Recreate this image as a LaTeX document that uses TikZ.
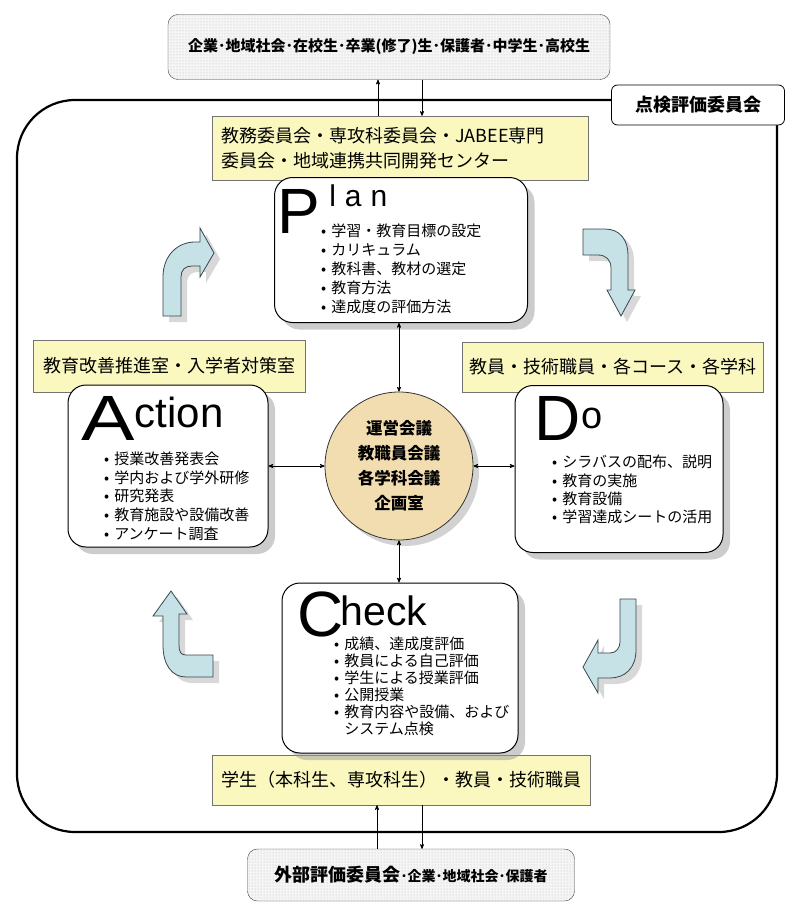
\documentclass[tikz,border=0pt]{standalone}
\usepackage{fontspec}
\setmainfont{Noto Sans CJK JP}
\newfontfamily\latin{Liberation Sans}
\usepackage{tikz}
\usetikzlibrary{arrows, positioning, shadows, patterns}
\definecolor{memo}{HTML}{FAF8BE}
\definecolor{council}{HTML}{F2DDB0}
\definecolor{turnfill}{HTML}{C6E2E6}
\definecolor{turnline}{HTML}{37474D}
\newcommand{\dotitem}{\textbullet\hspace{5pt}}
\tikzset{
  outside/.style = {draw=black!75, rounded corners=10pt, inner sep=0pt,
    preaction={fill=gray!8}, pattern=dots, pattern color=gray!55},
  office/.style = {draw=black!55, fill=memo, inner sep=0pt,
    font=\fontsize{18}{25}\selectfont},
  phase/.style = {draw=black, fill=white, line width=1pt, rounded corners=18pt,
    drop shadow={shadow xshift=7pt, shadow yshift=-7pt, fill=black!40}},
  initial/.style = {inner sep=0pt, anchor=base west,
    font=\latin\fontsize{64}{64}\selectfont},
  tail/.style = {inner sep=0pt, anchor=base west},
  items/.style = {inner sep=0pt, anchor=north west, align=left,
    font=\fontsize{15}{19}\selectfont},
  turn/.style = {fill=turnfill, draw=turnline, line width=.8pt,
    drop shadow={shadow xshift=6pt, shadow yshift=-6pt, fill=black!30}},
  link/.style = {line width=.7pt}
}
\begin{document}
\begin{tikzpicture}[x=1pt, y=-1pt, >=stealth']
\useasboundingbox (0,0) rectangle (788,907);
\draw[line width=2.2pt, rounded corners=58pt] (640,100) -- (17,100) -- (17,832) -- (777,832) -- (777,112);

\node[outside, minimum width=442pt, minimum height=65pt, font=\bfseries] (public) at (389,47)
  {\fontsize{15}{15}\selectfont 企業･地域社会･在校生･卒業(修了)生･保護者･中学生･高校生};
\node[outside, minimum width=327pt, minimum height=52pt, font=\bfseries] (external) at (411,875)
  {{\fontsize{18}{18}\selectfont 外部評価委員会}\fontsize{14}{14}\selectfont ･企業･地域社会･保護者};
\node[draw, fill=white, rounded corners=6pt, line width=.8pt, minimum width=173pt,
  minimum height=40pt, font=\fontsize{18}{18}\selectfont\bfseries] (review) at (698,105) {点検評価委員会};

\node[office, minimum width=376pt, minimum height=64pt, align=left, text width=358pt] (planoffice) at (400,148)
  {教務委員会・専攻科委員会・JABEE専門\\委員会・地域連携共同開発センター};
\node[office, minimum width=272pt, minimum height=52pt] (actoffice) at (169,366) {教育改善推進室・入学者対策室};
\node[office, minimum width=301pt, minimum height=50pt] (dooffice) at (613,367) {教員・技術職員・各コース・各学科};
\node[office, minimum width=378pt, minimum height=50pt] (checkoffice) at (401,780) {学生（本科生、専攻科生）・教員・技術職員};

\node[phase, minimum width=253pt, minimum height=145pt] (plan) at (401,250) {};
\node[phase, minimum width=200pt, minimum height=162pt] (action) at (168,466) {};
\node[phase, minimum width=208pt, minimum height=167pt] (do) at (619,469) {};
\node[phase, minimum width=236pt, minimum height=170pt] (check) at (400,668) {};

\node[initial] (plantitle) at (277,233) {P};
\node[tail, font=\latin\fontsize{30}{30}\selectfont] (plantail) at ([xshift=9pt, yshift=27pt]plantitle.base east)
  {l\hspace{9pt}a\hspace{9pt}n};
\node[initial] (actiontitle) at (81,440) {\scalebox{1.25}[1]{A}};
\node[tail, font=\latin\fontsize{42}{42}\selectfont] (actiontail) at ([yshift=13pt]actiontitle.base east) {ction};
\node[initial] (dotitle) at (534,440) {D};
\node[tail, font=\latin\fontsize{38}{38}\selectfont] (dotail) at ([xshift=1pt, yshift=12pt]dotitle.base east) {o};
\node[initial] (checktitle) at (297,636) {C};
\node[tail, font=\latin\fontsize{41}{41}\selectfont] (checktail) at ([xshift=-3pt, yshift=11pt]checktitle.base east) {heck};

\node[items] (planitems) at (321,223.5) {\dotitem 学習・教育目標の設定\\ \dotitem カリキュラム\\
  \dotitem 教科書、教材の選定\\ \dotitem 教育方法\\ \dotitem 達成度の評価方法};
\node[items, font=\fontsize{15}{18.8}\selectfont] (actionitems) at (104,451.5) {\dotitem 授業改善発表会\\
  \dotitem 学内および学外研修\\ \dotitem 研究発表\\ \dotitem 教育施設や設備改善\\ \dotitem アンケート調査};
\node[items, font=\fontsize{15}{18.3}\selectfont] (doitems) at (552,455) {\dotitem シラバスの配布、説明\\
  \dotitem 教育の実施\\ \dotitem 教育設備\\ \dotitem 学習達成シートの活用};
\node[items, font=\fontsize{15}{17}\selectfont] (checkitems) at (334,637) {\dotitem 成績、達成度評価\\
  \dotitem 教員による自己評価\\ \dotitem 学生による授業評価\\ \dotitem 公開授業\\
  \dotitem 教育内容や設備、および\\ \hphantom{\dotitem}システム点検};

\node[circle, draw=black!80, fill=council, line width=.8pt, minimum size=148pt, align=center,
  font=\fontsize{16.5}{25}\selectfont\bfseries,
  drop shadow={shadow xshift=6pt, shadow yshift=-6pt, fill=black!35}] (meeting) at (399,466)
  {運営会議\\教職員会議\\各学科会議\\企画室};

\draw[link, <->] (meeting.north) -- (meeting.north |- plan.south);
\draw[link, <->] (meeting.south) -- (meeting.south |- check.north);
\draw[link, <->] (meeting.west -| action.east) -- (meeting.west);
\draw[link, <->] (meeting.east) -- (meeting.east -| do.west);
\draw[link, ->] ([xshift=-22pt]planoffice.north) -- ([xshift=-22pt]planoffice.north |- public.south);
\draw[link, ->] ([xshift=22pt]planoffice.north |- public.south) -- ([xshift=22pt]planoffice.north);
\draw[link, ->] ([xshift=-24pt]checkoffice.south |- external.north) -- ([xshift=-24pt]checkoffice.south);
\draw[link, ->] ([xshift=21pt]checkoffice.south) -- ([xshift=21pt]checkoffice.south |- external.north);

\draw[turn] (163,316) -- (163,277) .. controls (163,255) and (178,242) .. (195,242) -- (200,242)
  -- (200,228) -- (214,253) -- (200,277) -- (200,266) -- (192,266) .. controls (185,266) and (181,270) .. (181,277)
  -- (181,316) -- cycle;
\draw[turn] (583,229) -- (605,229) .. controls (620,229) and (628,240) .. (628,255) -- (628,290)
  -- (635,290) -- (621,316) -- (607,290) -- (611,290) -- (611,268) .. controls (611,260) and (606,255) .. (598,255)
  -- (583,255) -- cycle;
\draw[turn] (620,599) -- (636,599) -- (636,650) .. controls (636,668) and (625,678) .. (610,678) -- (598,678)
  -- (598,693) -- (583,667) -- (598,640) -- (598,653) -- (610,653) .. controls (616,653) and (620,648) .. (620,642)
  -- cycle;
\draw[turn] (213,655) -- (186,655) .. controls (181,655) and (179,652) .. (179,645) -- (179,614)
  -- (187,614) -- (171,591) -- (153,616) -- (163,616) -- (163,645) .. controls (163,665) and (172,677) .. (186,677)
  -- (213,677) -- cycle;
\end{tikzpicture}
\end{document}
